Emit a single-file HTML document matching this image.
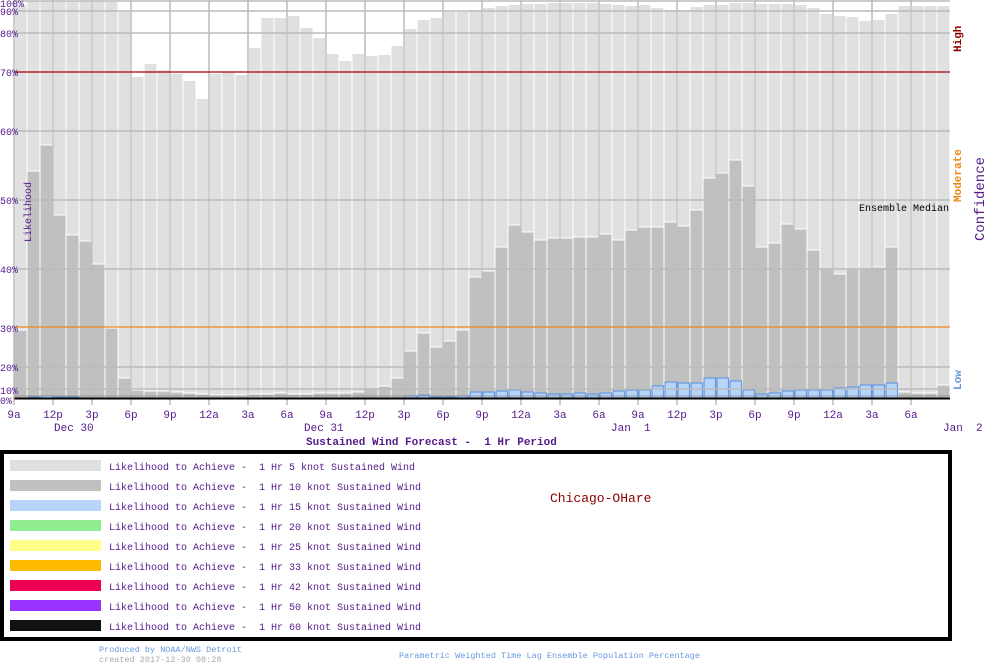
<!DOCTYPE html>
<html><head><meta charset="utf-8"><style>
html,body{margin:0;padding:0;background:#fff;width:1000px;height:670px;overflow:hidden}
svg text{font-family:"Liberation Mono",monospace;white-space:pre}
</style></head><body>
<svg id="s" width="1000" height="670" xmlns="http://www.w3.org/2000/svg" xml:space="preserve">
<g id="grid" stroke="#bbbbbb" stroke-width="1.5"></g>
<g id="bars"></g>
<g stroke="#bbbbbb" stroke-width="1.5">
<line x1="14" y1="1" x2="950" y2="1"/><line x1="14" y1="11" x2="950" y2="11"/>
<line x1="14" y1="33" x2="950" y2="33"/><line x1="14" y1="131" x2="950" y2="131"/>
<line x1="14" y1="200" x2="950" y2="200"/><line x1="14" y1="269" x2="950" y2="269"/>
<line x1="14" y1="367" x2="950" y2="367"/><line x1="14" y1="389" x2="950" y2="389"/>
</g>
<line x1="14" y1="72" x2="950" y2="72" stroke="#aa0000" stroke-width="1.2"/>
<line x1="14" y1="327" x2="950" y2="327" stroke="#ee8811" stroke-width="1.2"/>
<line x1="14" y1="398.5" x2="950" y2="398.5" stroke="#000" stroke-width="2"/>
<line x1="14" y1="396" x2="950" y2="396" stroke="#888" stroke-width="0.8"/>
<line x1="14" y1="0" x2="14" y2="405" stroke="#bbb" stroke-width="1"/>
<g fill="#551a8b" font-size="10">
<text x="0" y="7">100%</text><text x="0" y="15">90%</text><text x="0" y="37">80%</text>
<text x="0" y="76">70%</text><text x="0" y="135">60%</text><text x="0" y="204">50%</text>
<text x="0" y="273">40%</text><text x="0" y="332">30%</text><text x="0" y="371">20%</text>
<text x="0" y="394">10%</text><text x="0" y="404">0%</text>
<text transform="translate(31,242) rotate(-90)" font-size="10">Likelihood</text>
</g>
<g id="ticks" fill="#551a8b" font-size="11" text-anchor="middle"></g>
<g fill="#551a8b" font-size="11">
<text x="54" y="431">Dec 30</text><text x="304" y="431">Dec 31</text>
<text x="611" y="431">Jan  1</text><text x="943" y="431">Jan  2</text>
</g>
<text x="306" y="445" fill="#551a8b" font-size="11" font-weight="bold">Sustained Wind Forecast -  1 Hr Period</text>
<text x="859" y="211" fill="#000" font-size="10">Ensemble Median</text>
<text transform="translate(961,52) rotate(-90)" fill="#8b0000" font-size="11" font-weight="bold">High</text>
<text transform="translate(961,202) rotate(-90)" fill="#ee8811" font-size="11" font-weight="bold">Moderate</text>
<text transform="translate(961,390) rotate(-90)" fill="#6699dd" font-size="11" font-weight="bold">Low</text>
<text transform="translate(984,241) rotate(-90)" fill="#551a8b" font-size="14">Confidence</text>
<rect x="2" y="452" width="948" height="187" fill="#fff" stroke="#000" stroke-width="4"/>
<g id="leg"></g>
<text x="550" y="502" fill="#8b0000" font-size="13">Chicago-OHare</text>
<text x="99" y="652" fill="#6699dd" font-size="8.5">Produced by NOAA/NWS Detroit</text>
<text x="99" y="662" fill="#aaaaaa" font-size="8.5">created 2017-12-30 08:28</text>
<text x="399" y="658" fill="#6699dd" font-size="8.5">Parametric Weighted Time Lag Ensemble Population Percentage</text>
</svg>
<script>
var NS="http://www.w3.org/2000/svg";
function el(p,t,a,txt){var e=document.createElementNS(NS,t);for(var k in a)e.setAttribute(k,a[k]);if(txt)e.textContent=txt;p.appendChild(e);return e;}
var L=[5,1,1,1,1,1,1,2,12,77,64,70,74,81,99,74,72,75,48,18,18,16,28,38,54,61,54,56,55,46,29,20,18,12,12,10,8,6,5,4,4,3,3,3,3,4,5,6,5,8,10,10,7,5,5,3,3,4,4,4,5,8,14,16,17,21,20,14,6,6,6,6];
var G=[330,171,145,215,235,241,264,328,378,390,391,391,392,393,394,395,395,395,394,394,393,394,394,393,393,393,392,389,386,378,351,333,347,341,330,277,271,247,225,232,240,238,238,237,237,234,240,230,227,227,222,226,210,178,173,160,186,247,243,224,229,250,269,274,269,269,267,247,392,393,393,385];
var B={1:397,2:396,3:397,4:397,30:396,31:395,32:397,33:397,34:396,35:392,36:392,37:391,38:390,39:392,40:393,41:394,42:394,43:393,44:394,45:393,46:391,47:390,48:390,49:386,50:382,51:383,52:383,53:378,54:378,55:381,56:390,57:394,58:393,59:391,60:390,61:390,62:390,63:388,64:387,65:385,66:385,67:383};
var grid=document.getElementById('grid'),bars=document.getElementById('bars'),ticks=document.getElementById('ticks');
var lab=["9a","12p","3p","6p","9p","12a","3a","6a"];
for(var k=0;k<24;k++){var x=14+39*k;el(grid,'line',{x1:x,y1:0,x2:x,y2:405});el(ticks,'text',{x:x,y:418},lab[k%8]);}
for(var i=0;i<72;i++){var x=14+13*i;
el(bars,'rect',{x:x+0.5,y:L[i],width:12,height:398-L[i],fill:'#e0e0e0'});
el(bars,'rect',{x:x+0.5,y:G[i],width:12,height:398-G[i],fill:'#c0c0c0'});
el(bars,'line',{x1:x+0.5,y1:G[i],x2:x+12.5,y2:G[i],stroke:'#fff','stroke-width':1});
if(B[i])el(bars,'rect',{x:x+1,y:B[i],width:11.5,height:398-B[i],fill:'#b8d4f8',stroke:'#6699dd','stroke-width':1.2});}
var leg=document.getElementById('leg');
var cols=['#e0e0e0','#c0c0c0','#b8d4f8','#90ee90','#ffff88','#ffbb00','#ee0055','#9933ff','#111111'];
var kn=['5','10','15','20','25','33','42','50','60'];
for(var j=0;j<9;j++){var y=460+20*j;el(leg,'rect',{x:10,y:y,width:91,height:11,fill:cols[j]});
el(leg,'text',{x:109,y:y+10,fill:'#551a8b','font-size':'10'},'Likelihood to Achieve -  1 Hr '+kn[j]+' knot Sustained Wind');}
</script>
</body></html>
